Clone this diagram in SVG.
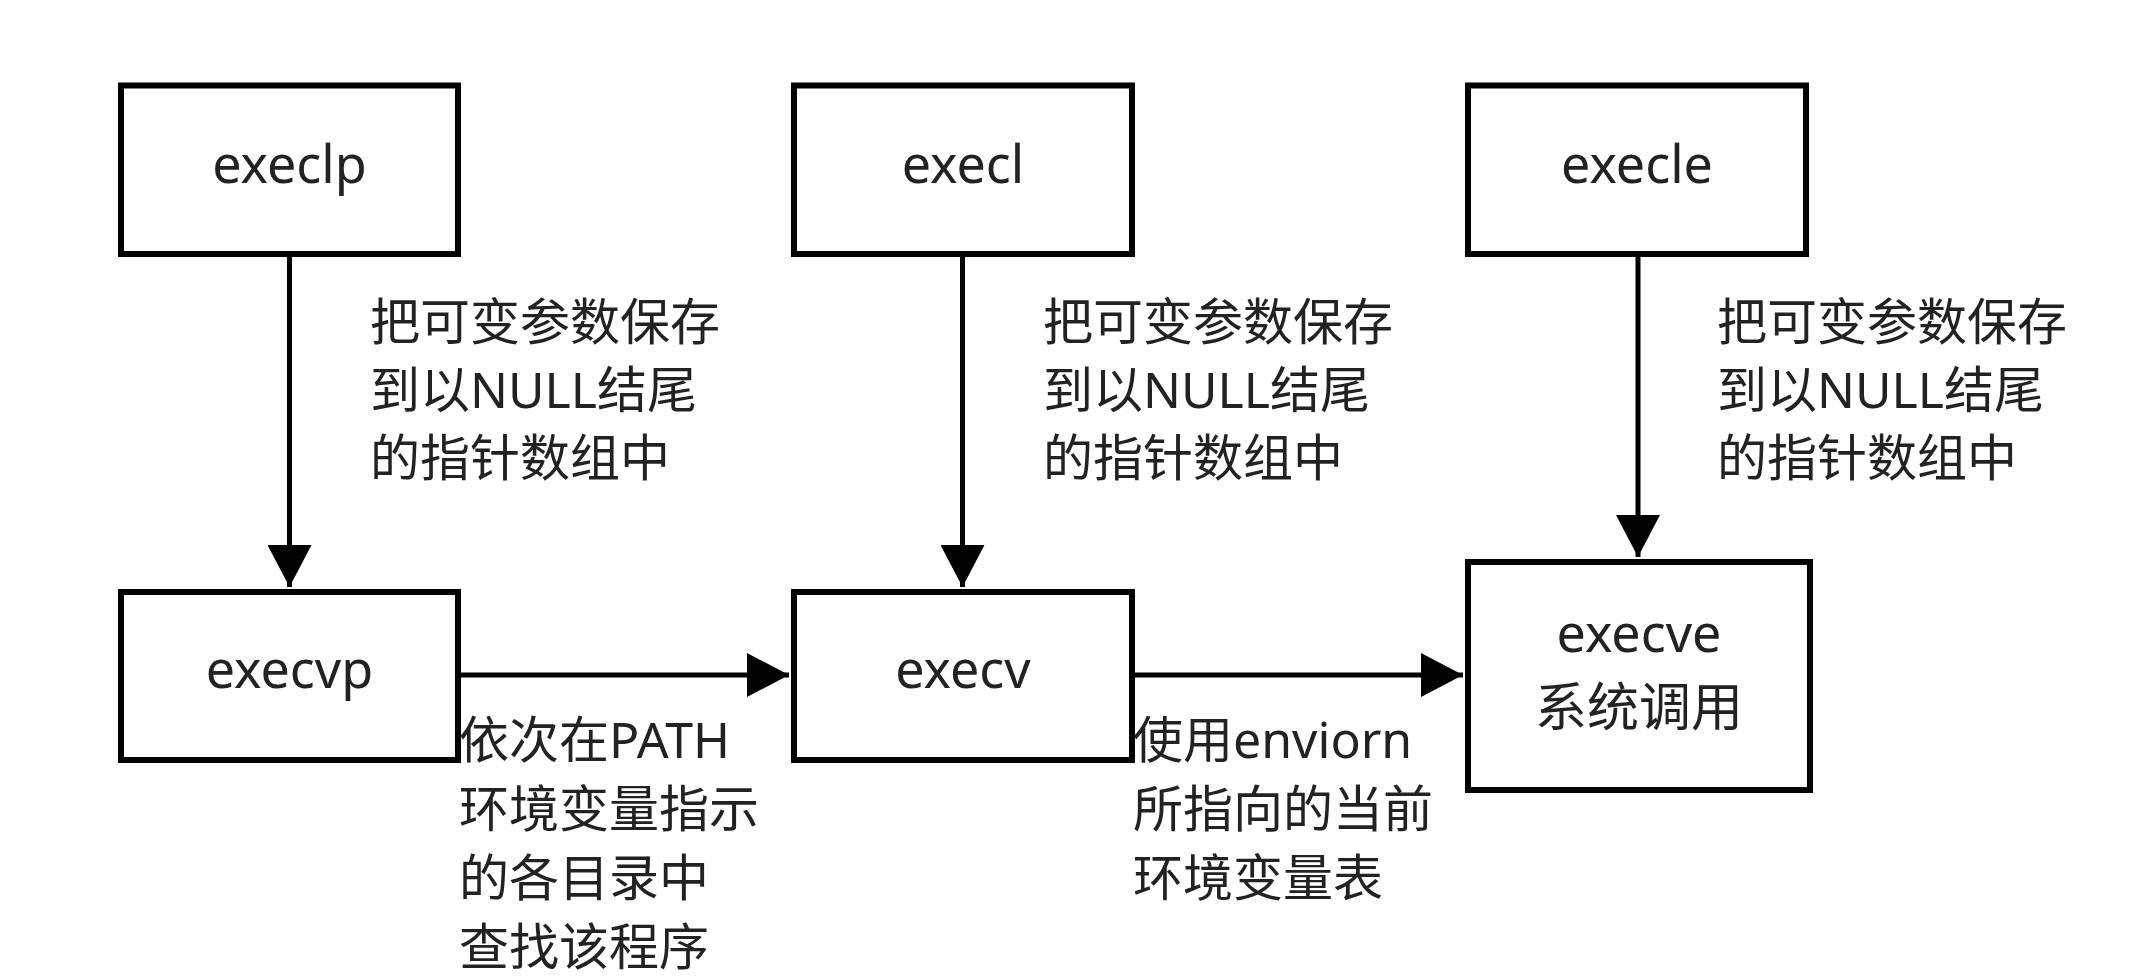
<svg xmlns="http://www.w3.org/2000/svg" width="2132" height="980" viewBox="0 0 2132 980">
<style>
.box{fill:#fff;stroke:#000;stroke-width:6}
.edge{fill:none;stroke:#000;stroke-width:5}
.t{font-family:"Noto Sans","Noto Sans CJK SC",sans-serif;font-size:50px;fill:#222}
.c{text-anchor:middle;font-size:52px}
</style>
<defs>
<marker id="ah" markerUnits="userSpaceOnUse" markerWidth="42" markerHeight="44" refX="42" refY="22" orient="auto" viewBox="0 0 42 44">
<path d="M0,0 L42,22 L0,44 Z" fill="#000"/>
</marker>
</defs>
<rect width="2132" height="980" fill="#fff"/>
<g id="connectors">
<line class="edge" x1="289.5" y1="254" x2="289.5" y2="587" marker-end="url(#ah)"/>
<line class="edge" x1="962.5" y1="254" x2="962.5" y2="587" marker-end="url(#ah)"/>
<line class="edge" x1="1638" y1="254" x2="1638" y2="557" marker-end="url(#ah)"/>
<line class="edge" x1="458" y1="675" x2="789" y2="675" marker-end="url(#ah)"/>
<line class="edge" x1="1133" y1="675" x2="1463" y2="675" marker-end="url(#ah)"/>
</g>
<g id="execlp">
<rect class="box" x="121" y="85.5" width="337" height="168.5"/>
<text class="t c" x="289.5" y="183">execlp</text>
</g>
<g id="execl">
<rect class="box" x="794" y="85.5" width="338" height="168.5"/>
<text class="t c" x="963" y="183">execl</text>
</g>
<g id="execle">
<rect class="box" x="1468" y="85.5" width="338" height="168.5"/>
<text class="t c" x="1637" y="183">execle</text>
</g>
<g id="execvp">
<rect class="box" x="121" y="592" width="337" height="168"/>
<text class="t c" x="289.5" y="688">execvp</text>
</g>
<g id="execv">
<rect class="box" x="794" y="592" width="338" height="168"/>
<text class="t c" x="963" y="688">execv</text>
</g>
<g id="execve">
<rect class="box" x="1468" y="562" width="342" height="228"/>
<text class="t c" x="1639" y="652">execve</text>
<text class="t c" x="1639" y="726">系统调用</text>
</g>
<g id="label-execlp">
<text class="t" x="370" y="340">把可变参数保存</text>
<text class="t" x="370" y="408">到以NULL结尾</text>
<text class="t" x="370" y="476">的指针数组中</text>
</g>
<g id="label-execl">
<text class="t" x="1043" y="340">把可变参数保存</text>
<text class="t" x="1043" y="408">到以NULL结尾</text>
<text class="t" x="1043" y="476">的指针数组中</text>
</g>
<g id="label-execle">
<text class="t" x="1717" y="340">把可变参数保存</text>
<text class="t" x="1717" y="408">到以NULL结尾</text>
<text class="t" x="1717" y="476">的指针数组中</text>
</g>
<g id="label-execvp">
<text class="t" x="459" y="758">依次在PATH</text>
<text class="t" x="459" y="827">环境变量指示</text>
<text class="t" x="459" y="896">的各目录中</text>
<text class="t" x="459" y="965">查找该程序</text>
</g>
<g id="label-execv">
<text class="t" x="1133" y="758">使用enviorn</text>
<text class="t" x="1133" y="827">所指向的当前</text>
<text class="t" x="1133" y="896">环境变量表</text>
</g>
</svg>
